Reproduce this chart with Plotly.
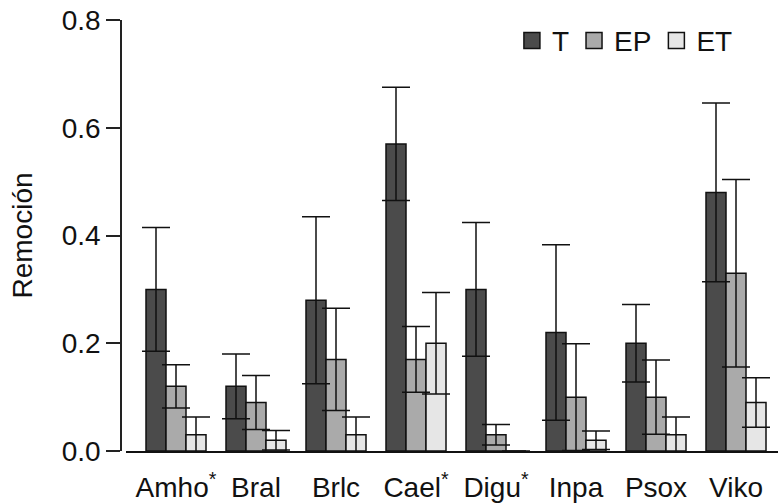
import plotly.graph_objects as go

# Species codes (asterisk marks significant differences)
species = ["Amho<sup>*</sup>", "Bral", "Brlc", "Cael<sup>*</sup>", "Digu<sup>*</sup>", "Inpa", "Psox", "Viko"]

# Mean removal per treatment
t_vals = [0.30, 0.12, 0.28, 0.57, 0.30, 0.22, 0.20, 0.48]
ep_vals = [0.12, 0.09, 0.17, 0.17, 0.03, 0.10, 0.10, 0.33]
et_vals = [0.03, 0.02, 0.03, 0.20, 0.00, 0.02, 0.03, 0.09]

# Standard errors per treatment
t_err = [0.115, 0.060, 0.155, 0.105, 0.124, 0.163, 0.072, 0.166]
ep_err = [0.040, 0.050, 0.095, 0.061, 0.019, 0.099, 0.069, 0.174]
et_err = [0.033, 0.018, 0.033, 0.094, 0.000, 0.017, 0.033, 0.046]

series = [
    ("T", t_vals, t_err, "#4b4b4b"),
    ("EP", ep_vals, ep_err, "#aaaaaa"),
    ("ET", et_vals, et_err, "#e6e6e6"),
]

FONT = "Liberation Sans, Arial, Helvetica, sans-serif"
FS = 28
bar_w = 0.25
offsets = [-bar_w, 0.0, bar_w]
idx = list(range(len(species)))

fig = go.Figure()

# Bars
for (name, vals, err, color), off in zip(series, offsets):
    fig.add_trace(go.Bar(
        x=[i + off for i in idx], y=vals, width=bar_w,
        marker=dict(color=color, line=dict(color="#111111", width=1.5)),
        showlegend=False, hoverinfo="skip",
    ))

# Error bars drawn on top of every bar
for (name, vals, err, color), off in zip(series, offsets):
    fig.add_trace(go.Scatter(
        x=[i + off for i in idx], y=vals, mode="markers",
        marker=dict(size=1, color="rgba(0,0,0,0)"),
        error_y=dict(type="data", array=err, visible=True,
                     color="#111111", thickness=1.5, width=14),
        showlegend=False, hoverinfo="skip",
    ))

# Legend entries
for name, vals, err, color in series:
    fig.add_trace(go.Scatter(
        x=[None], y=[None], mode="markers", name=name,
        marker=dict(symbol="square", size=16, color=color,
                    line=dict(color="#111111", width=1.5)),
    ))

fig.update_layout(
    width=778, height=504,
    margin=dict(l=121, r=0, t=20, b=53),
    paper_bgcolor="white", plot_bgcolor="white",
    font=dict(family=FONT, size=FS, color="#111111"),
    showlegend=True,
    legend=dict(orientation="h", x=0.595, y=1.01, xanchor="left", yanchor="top",
                font=dict(size=FS), bgcolor="rgba(0,0,0,0)",
                itemclick=False, tracegroupgap=0),
    xaxis=dict(
        domain=[5 / 657, 1], range=[-0.625, 7.525],
        tickmode="array", tickvals=idx, ticktext=species,
        showline=True, linecolor="#111111", linewidth=1.5,
        ticks="", showgrid=False, zeroline=False,
        ticklabelstandoff=11,
        tickfont=dict(size=FS),
    ),
    yaxis=dict(
        anchor="free", position=0, range=[0, 0.8],
        tickvals=[0, 0.2, 0.4, 0.6, 0.8], ticktext=["0.0", "0.2", "0.4", "0.6", "0.8"],
        showline=True, linecolor="#222222", linewidth=1.5,
        ticks="outside", ticklen=14, tickwidth=1.5, tickcolor="#222222",
        showgrid=False, zeroline=False,
        tickfont=dict(size=FS),
        title=dict(text="Remoción", font=dict(size=FS), standoff=20),
    ),
)

fig.write_html("out.html")
